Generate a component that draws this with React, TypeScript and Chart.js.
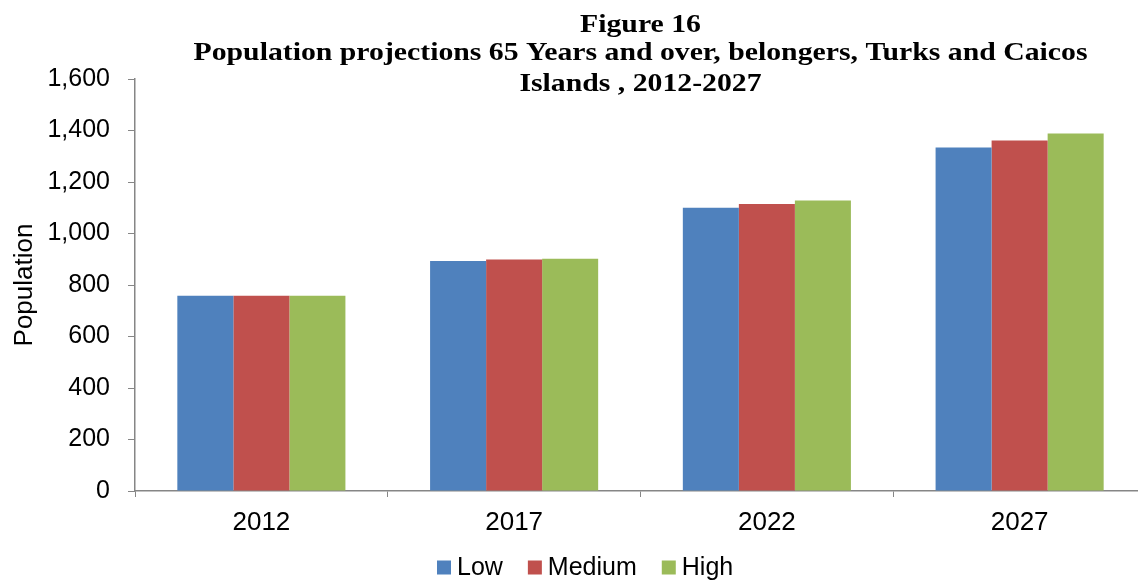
import React, { useEffect, useRef } from "react";
import { Chart, registerables } from "chart.js";

Chart.register(...registerables);

const categories = ["2012", "2017", "2022", "2027"];
const lowValues = [758, 893, 1100, 1334];
const mediumValues = [758, 899, 1115, 1361];
const highValues = [758, 902, 1128, 1388];
const seriesNames = ["Low", "Medium", "High"];
const seriesColors = ["#4F81BD", "#C0504D", "#9BBB59"];
const titleLines = [
  "Figure 16",
  "Population projections 65 Years and over, belongers, Turks and Caicos",
  "Islands , 2012-2027",
];
const yAxisTitle = "Population";

const SANS = "'Liberation Sans', Arial, sans-serif";
const SERIF = "'Liberation Serif', 'Times New Roman', serif";

const titlePlugin = {
  id: "figureTitle",
  afterDraw(chart: any) {
    const { ctx, chartArea } = chart;
    const cx = (chartArea.left + chartArea.right) / 2;
    const baselines = [31.5, 59.5, 91];
    ctx.save();
    ctx.font = `bold 25px ${SERIF}`;
    ctx.fillStyle = "#000";
    ctx.textAlign = "center";
    ctx.textBaseline = "alphabetic";
    titleLines.forEach((t, i) => {
      ctx.save();
      ctx.translate(cx, baselines[i]);
      ctx.scale(1.19, 1);
      ctx.fillText(t, 0, 0);
      ctx.restore();
    });
    ctx.restore();
  },
};

const legendPlugin = {
  id: "bottomLegend",
  afterDraw(chart: any) {
    const { ctx } = chart;
    const cy = 567.5;
    const box = 14;
    const gapText = 6;
    const gapItem = 25;
    ctx.save();
    ctx.font = `25px ${SANS}`;
    ctx.textBaseline = "middle";
    ctx.textAlign = "left";
    let x = 437;
    chart.data.datasets.forEach((ds: any) => {
      ctx.fillStyle = ds.backgroundColor;
      ctx.fillRect(x, cy - box / 2, box, box);
      x += box + gapText;
      ctx.fillStyle = "#000";
      ctx.fillText(ds.label, x, cy + 1);
      x += ctx.measureText(ds.label).width + gapItem;
    });
    ctx.restore();
  },
};

export default function App() {
  const ref = useRef<HTMLCanvasElement>(null);
  useEffect(() => {
    if (!ref.current) return;
    const chart = new Chart(ref.current, {
      type: "bar",
      data: {
        labels: categories,
        datasets: [
          { label: seriesNames[0], data: lowValues, backgroundColor: seriesColors[0] },
          { label: seriesNames[1], data: mediumValues, backgroundColor: seriesColors[1] },
          { label: seriesNames[2], data: highValues, backgroundColor: seriesColors[2] },
        ],
      },
      options: {
        responsive: false,
        animation: false,
        layout: { padding: { top: 79, left: 0, right: 4, bottom: 0 } },
        datasets: {
          bar: { categoryPercentage: 0.665, barPercentage: 1, borderWidth: 0 },
        },
        plugins: {
          title: { display: false },
          tooltip: { enabled: false },
          legend: { display: false },
        },
        scales: {
          x: {
            afterFit: (s: any) => {
              s.height = 93;
            },
            grid: {
              display: true,
              drawOnChartArea: false,
              drawTicks: true,
              tickLength: 6,
              color: "#868686",
              offset: true,
            },
            border: { display: true, color: "#868686", width: 1.5 },
            ticks: {
              color: "#000",
              font: { family: SANS, size: 26 },
              padding: 10,
            },
          },
          y: {
            min: 0,
            max: 1600,
            afterFit: (s: any) => {
              s.width = 135;
            },
            grid: {
              display: true,
              drawOnChartArea: false,
              drawTicks: true,
              tickLength: 7,
              color: "#868686",
            },
            border: { display: true, color: "#868686", width: 1.5 },
            ticks: {
              stepSize: 200,
              color: "#000",
              padding: 18,
              font: { family: SANS, size: 25 },
              callback: (v: any) => Number(v).toLocaleString("en-US"),
            },
            title: {
              display: true,
              text: yAxisTitle,
              color: "#000",
              font: { family: SANS, size: 26 },
              padding: { top: 9, bottom: 0 },
            },
          },
        },
      },
      plugins: [titlePlugin, legendPlugin],
    });
    return () => chart.destroy();
  }, []);
  return (
    <div
      style={{
        position: "fixed",
        left: 0,
        top: 0,
        width: 1138,
        height: 584,
        overflow: "hidden",
        background: "#fff",
      }}
    >
      <canvas ref={ref} width={1150} height={584} style={{ display: "block" }} />
    </div>
  );
}
